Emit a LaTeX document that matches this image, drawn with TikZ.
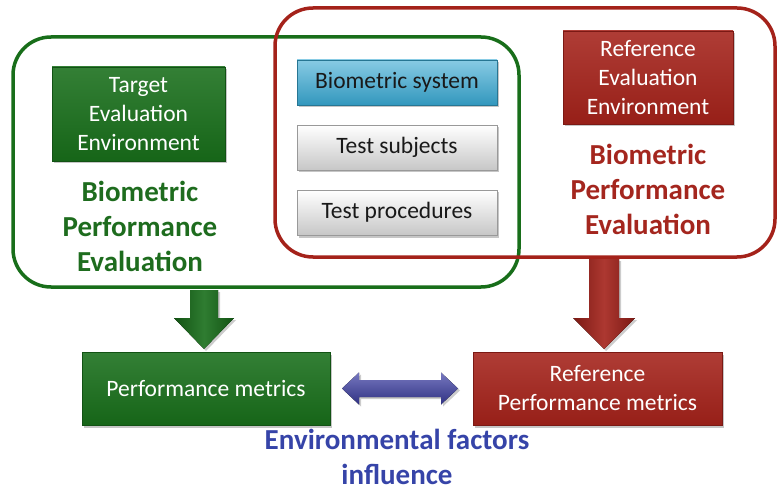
\documentclass[tikz,border=0pt]{standalone}
\usepackage{fontspec}
\setmainfont{Carlito}
\usetikzlibrary{shadows,calc}

\definecolor{envgreen}{RGB}{24,110,26}
\definecolor{envred}{RGB}{164,34,26}
\definecolor{txtgreen}{RGB}{30,108,30}
\definecolor{txtred}{RGB}{164,38,30}
\definecolor{txtblue}{RGB}{54,68,168}
\definecolor{sysblue}{RGB}{56,168,210}
\definecolor{arrblue}{RGB}{60,62,164}

\tikzset{
  frame/.style={draw, line width=3.5pt, rounded corners=38pt, inner sep=0pt, outer sep=0pt},
  box/.style={rectangle, inner sep=0pt, outer sep=0pt, align=center,
    font=\fontsize{23.5}{29}\selectfont, line width=0.8pt,
    drop shadow={shadow xshift=2pt, shadow yshift=-2.5pt, opacity=0.45}},
  greenbox/.style={box, text=white, draw=envgreen!75!black,
    top color=envgreen!88!white, bottom color=envgreen!92!black},
  redbox/.style={box, text=white, draw=envred!75!black,
    top color=envred!88!white, bottom color=envred!92!black},
  bluebox/.style={box, text=black!90, draw=sysblue!70!black,
    top color=sysblue!60!white, bottom color=sysblue!90!black},
  greybox/.style={box, text=black!90, draw=black!40,
    top color=white, bottom color=black!22},
  biglabel/.style={align=center, inner sep=0pt, font=\bfseries\fontsize{29}{35}\selectfont},
  greenarrow/.style={left color=envgreen!75!black, right color=envgreen!75!black,
    middle color=envgreen!90!white,
    drop shadow={shadow xshift=2pt, shadow yshift=-2pt, opacity=0.4}},
  redarrow/.style={left color=envred!75!black, right color=envred!75!black,
    middle color=envred!90!white,
    drop shadow={shadow xshift=2pt, shadow yshift=-2pt, opacity=0.4}},
  bluearrow/.style={top color=arrblue!70!white, bottom color=arrblue!80!black,
    drop shadow={shadow xshift=2pt, shadow yshift=-2pt, opacity=0.4}},
}

\begin{document}
\begin{tikzpicture}[x=1pt, y=-1pt]
  \useasboundingbox (0,0) rectangle (777,492);

  % two overlapping evaluation frames
  \node[frame, draw=envgreen, minimum width=506pt, minimum height=250pt] (gframe) at (266,162) {};
  \node[frame, draw=envred, minimum width=500pt, minimum height=249pt] (rframe) at (525,132.5) {};

  % environment boxes
  \node[greenbox, minimum width=173pt, minimum height=94pt] (tee) at (138.5,114)
    {Target\\Evaluation\\Environment};
  \node[redbox, minimum width=170pt, minimum height=93pt] (ree) at (648,77.5)
    {Reference\\Evaluation\\Environment};

  % shared components
  \node[bluebox, minimum width=200pt, minimum height=45pt] (sys) at (397,82.5) {Biometric system};
  \node[greybox, minimum width=200pt, minimum height=45pt] (subj) at (397,147.5) {Test subjects};
  \node[greybox, minimum width=200pt, minimum height=45pt] (proc) at (397,212.5) {Test procedures};

  % frame titles
  \node[biglabel, text=txtgreen] (glabel) at (140,226)
    {Biometric\\Performance\\Evaluation};
  \node[biglabel, text=txtred] (rlabel) at (648,189)
    {Biometric\\Performance\\Evaluation};

  % resulting metrics
  \node[greenbox, minimum width=248pt, minimum height=73pt] (pm) at (206,388.5)
    {Performance metrics};
  \node[redbox, minimum width=249pt, minimum height=73pt] (rpm) at (597.5,388.5)
    {Reference\\Performance metrics};

  % block arrows from the frames down to the metrics
  \coordinate (ga) at (204,290);
  \coordinate (gb) at ($(pm.north)+(-2,-3)$);
  \fill[greenarrow] ($(ga)+(-14,0)$) -- ($(ga)+(14,0)$) -- ($(gb)+(14,-31)$)
    -- ($(gb)+(30,-31)$) -- (gb) -- ($(gb)+(-30,-31)$) -- ($(gb)+(-14,-31)$) -- cycle;

  \coordinate (ra) at (604,259);
  \coordinate (rb) at ($(rpm.north)+(6.5,-3)$);
  \fill[redarrow] ($(ra)+(-15,0)$) -- ($(ra)+(15,0)$) -- ($(rb)+(15,-31)$)
    -- ($(rb)+(31,-31)$) -- (rb) -- ($(rb)+(-31,-31)$) -- ($(rb)+(-15,-31)$) -- cycle;

  % two-headed arrow between the metrics
  \coordinate (la) at ($(pm.east)+(12,0)$);
  \coordinate (lb) at ($(rpm.west)+(-15,0)$);
  \fill[bluearrow] (la) -- ($(la)+(17,-16)$) -- ($(la)+(17,-8.5)$) -- ($(lb)+(-17,-8.5)$)
    -- ($(lb)+(-17,-16)$) -- (lb) -- ($(lb)+(-17,16)$) -- ($(lb)+(-17,8.5)$)
    -- ($(la)+(17,8.5)$) -- ($(la)+(17,16)$) -- cycle;

  \node[biglabel, text=txtblue] (envlabel) at (397,457)
    {Environmental factors\\influence};
\end{tikzpicture}
\end{document}
